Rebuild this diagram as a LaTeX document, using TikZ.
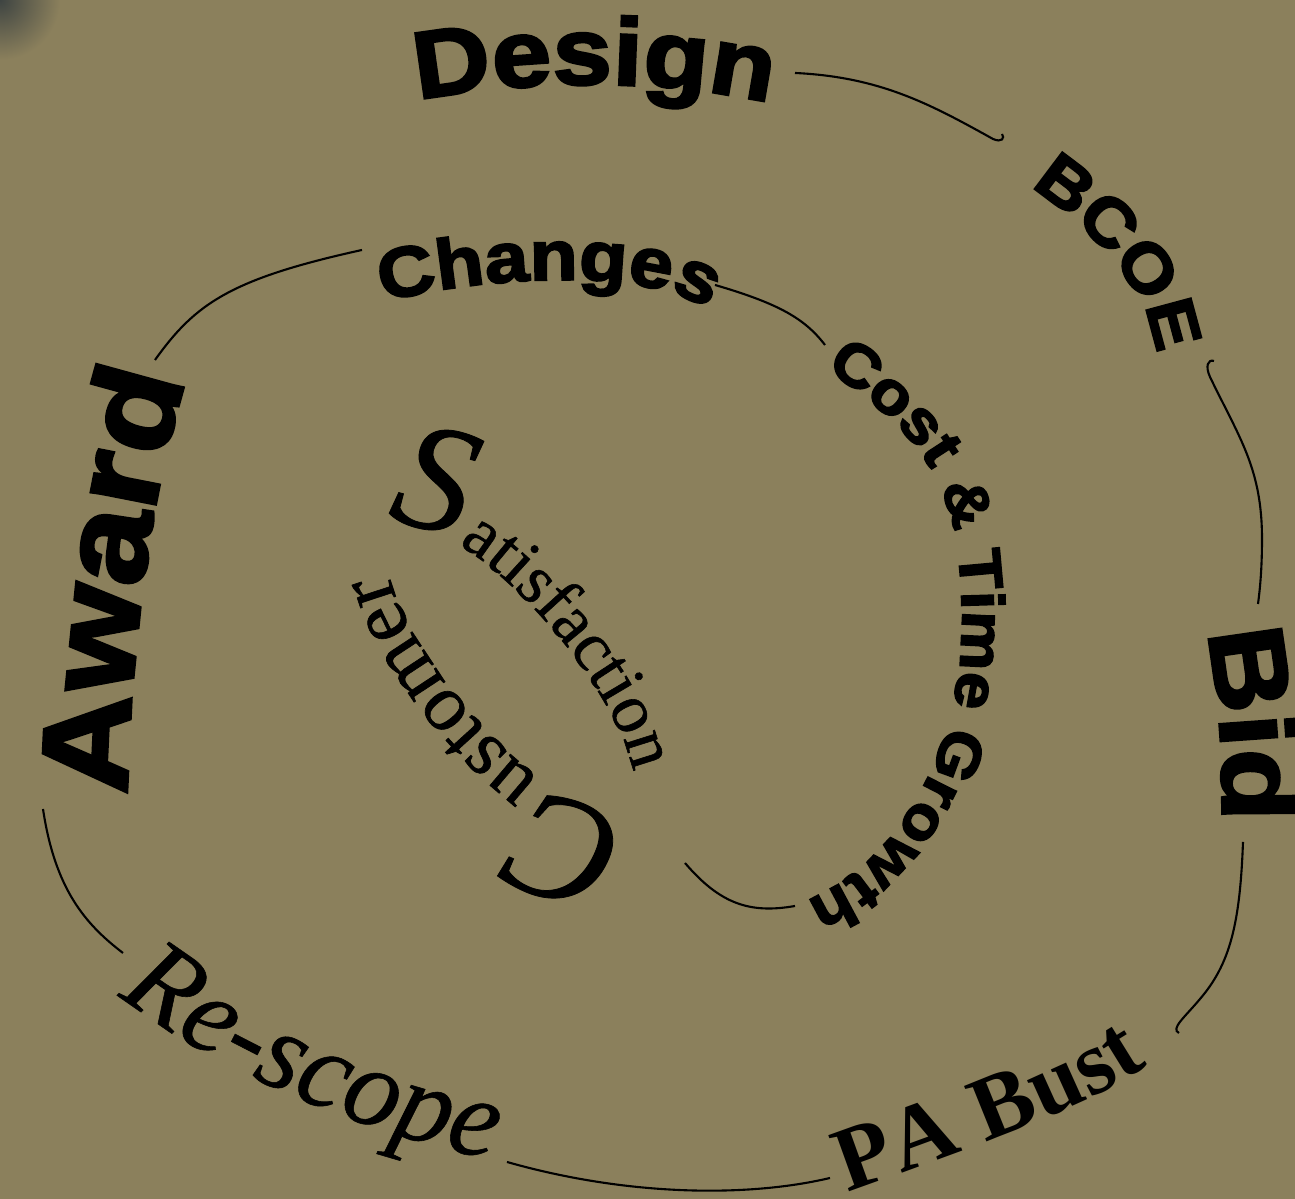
\documentclass[tikz,border=0pt]{standalone}
\usepackage{fontspec}
\usetikzlibrary{decorations.text}
\newfontfamily\heavyfont[FakeBold=3,FakeStretch=1.12]{Liberation Sans Bold}
\newfontfamily\romanfont[FakeBold=0.8]{Liberation Serif}
\newfontfamily\romanbold{Liberation Serif Bold}
\newfontfamily\romanital[FakeBold=0.5]{Liberation Serif Italic}
\newcommand\swashcap{\romanital\fontsize{44pt}{48pt}\selectfont}
\definecolor{olivebg}{RGB}{139,128,92}
\definecolor{cornershade}{RGB}{62,68,66}
% point (k=0) or control point (k<>0) of the tilted centre ellipse at angle #2
\newcommand\ellpoint[3]{%
  \coordinate (#1) at ({5.10+1.8*cos(#2)*0.6428-0.58*sin(#2)*0.7660+(#3)*(-1.8*sin(#2)*0.6428-0.58*cos(#2)*0.7660)},
                       {5.30-1.8*cos(#2)*0.7660-0.58*sin(#2)*0.6428+(#3)*(1.8*sin(#2)*0.7660-0.58*cos(#2)*0.6428)});}
\tikzset{
  link/.style={line width=0.6pt},
  wordpath/.style={decorate, decoration={text along path, text align=fit to path, text={#1}}},
  wordline/.style={decorate, decoration={text along path, text={#1}}}
}
\begin{document}
\begin{tikzpicture}
\useasboundingbox (0,0) rectangle (12.95,11.99);
\fill[olivebg] (0,0) rectangle (12.95,11.99);
\shade[inner color=cornershade, outer color=olivebg] (0,11.99) circle (0.6);

% outer ring
\coordinate (design-s) at (4.18,10.99);
\coordinate (design-e) at (7.62,10.98);
\path[wordpath={|\heavyfont\fontsize{27pt}{31pt}\selectfont|Design}]
  (design-s) .. controls (5.3,11.20) and (6.55,11.20) .. (design-e);

\coordinate (bcoe-s) at (10.30,10.12);
\coordinate (bcoe-e) at (11.55,8.50);
\path[wordpath={|\heavyfont\fontsize{19pt}{23pt}\selectfont|BCOE}]
  (bcoe-s) .. controls (10.77,9.83) and (11.50,9.15) .. (bcoe-e);

\coordinate (bid-s) at (12.07,5.67);
\coordinate (bid-e) at (12.22,3.80);
\path[wordpath={|\heavyfont\fontsize{30pt}{34pt}\selectfont|Bid}]
  (bid-s) .. controls (12.20,5.0) and (12.24,4.4) .. (bid-e);

\coordinate (pabust-s) at (8.48,0.06);
\coordinate (pabust-e) at (11.48,1.34);
\path[wordpath={|\romanbold\fontsize{26pt}{30pt}\selectfont|PA Bust}]
  (pabust-s) .. controls (9.42,0.40) and (10.82,0.88) .. (pabust-e);

\coordinate (rescope-s) at (1.18,2.04);
\coordinate (rescope-e) at (4.85,0.41);
\path[wordpath={|\romanital\fontsize{32pt}{36pt}\selectfont|Re-scope}]
  (rescope-s) .. controls (2.20,1.24) and (3.68,0.66) .. (rescope-e);

\coordinate (award-s) at (1.27,4.04);
\coordinate (award-e) at (1.85,8.14);
\path[wordpath={|\heavyfont\fontsize{35pt}{40pt}\selectfont|Award}]
  (award-s) .. controls (1.30,5.6) and (1.55,7.3) .. (award-e);

% inner ring
\coordinate (changes-s) at (3.83,8.97);
\coordinate (changes-e) at (7.05,8.91);
\path[wordpath={|\heavyfont\fontsize{20pt}{24pt}\selectfont|Changes}]
  (changes-s) .. controls (4.9,9.25) and (6.5,9.30) .. (changes-e);

\coordinate (growth-s) at (8.25,8.31);
\coordinate (growth-m) at (9.62,5.79);
\coordinate (growth-e) at (8.12,3.01);
\path[wordpath={|\heavyfont\fontsize{17pt}{21pt}\selectfont|Cost {\&} Time Growth}]
  (growth-s) .. controls (9.2,7.65) and (9.62,7.2) .. (growth-m)
  .. controls (9.62,4.5) and (9.0,3.4) .. (growth-e);

% centre: Customer on the lower side, Satisfaction on the upper side
\ellpoint{cust-0}{-8}{0}
\ellpoint{cust-0c}{-8}{0.5252}
\ellpoint{cust-1a}{78}{-0.5252}
\ellpoint{cust-1}{78}{0}
\ellpoint{cust-1c}{78}{0.5252}
\ellpoint{cust-2a}{164}{-0.5252}
\ellpoint{cust-2}{164}{0}
\path[wordline={|\swashcap|C|\romanfont\fontsize{23pt}{27pt}\selectfont|ustomer}]
  (cust-0) .. controls (cust-0c) and (cust-1a) .. (cust-1)
  .. controls (cust-1c) and (cust-2a) .. (cust-2);

\ellpoint{sat-0}{172}{0}
\ellpoint{sat-0c}{172}{0.5523}
\ellpoint{sat-1a}{262}{-0.5523}
\ellpoint{sat-1}{262}{0}
\ellpoint{sat-1c}{262}{0.5523}
\ellpoint{sat-2a}{352}{-0.5523}
\ellpoint{sat-2}{352}{0}
\path[wordline={|\swashcap|S|\romanfont\fontsize{20pt}{24pt}\selectfont|atisfaction}]
  (sat-0) .. controls (sat-0c) and (sat-1a) .. (sat-1)
  .. controls (sat-1c) and (sat-2a) .. (sat-2);

% connectors
\coordinate (design-out) at (7.95,11.26);
\coordinate (bcoe-in) at (10.02,10.65);
\coordinate (bcoe-out) at (12.14,8.38);
\coordinate (bid-in) at (12.58,5.95);
\coordinate (bid-out) at (12.43,3.57);
\coordinate (pabust-in) at (11.79,1.66);
\coordinate (pabust-out) at (8.30,0.21);
\coordinate (rescope-in) at (5.07,0.37);
\coordinate (rescope-out) at (1.23,2.46);
\coordinate (award-in) at (0.43,3.90);
\coordinate (award-out) at (1.55,8.39);
\coordinate (changes-in) at (3.62,9.49);
\coordinate (changes-out) at (7.15,9.14);
\coordinate (growth-in) at (8.25,8.54);
\coordinate (growth-out) at (7.95,2.93);
\coordinate (customer-in) at (6.85,3.36);

\draw[link] (design-out) .. controls (8.8,11.22) and (9.3,10.95) .. (9.93,10.60)
  .. controls (10.02,10.56) and (10.05,10.61) .. (bcoe-in);
\draw[link] (bcoe-out) .. controls (12.08,8.40) and (12.05,8.33) .. (12.10,8.22)
  .. controls (12.40,7.60) and (12.62,7.30) .. (12.62,6.60)
  .. controls (12.62,6.30) and (12.60,6.10) .. (bid-in);
\draw[link] (bid-out) .. controls (12.40,2.75) and (12.30,2.35) .. (12.00,2.00)
  .. controls (11.85,1.82) and (11.70,1.70) .. (pabust-in);
\draw[link] (pabust-out) .. controls (7.5,0.02) and (6.3,0.02) .. (rescope-in);
\draw[link] (rescope-out) .. controls (0.85,2.75) and (0.55,3.10) .. (award-in);
\draw[link] (award-out) .. controls (1.95,8.95) and (2.30,9.20) .. (changes-in);
\draw[link] (changes-out) .. controls (7.8,8.95) and (8.05,8.80) .. (growth-in);
\draw[link] (growth-out) .. controls (7.5,2.85) and (7.2,2.95) .. (customer-in);
\end{tikzpicture}
\end{document}
